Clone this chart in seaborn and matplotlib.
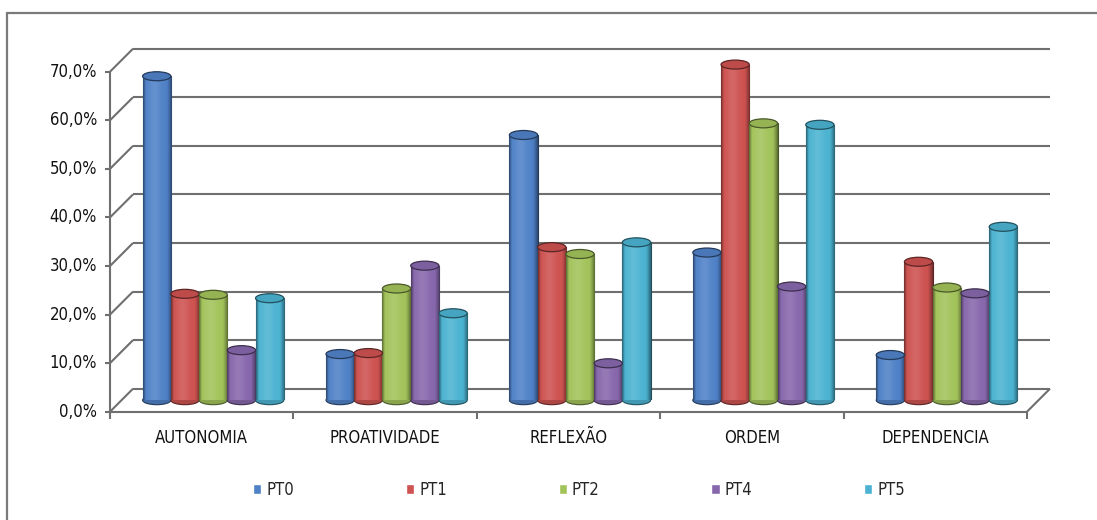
import numpy as np
import pandas as pd
import seaborn as sns
import matplotlib.pyplot as plt
from matplotlib.patches import Ellipse
from matplotlib.lines import Line2D
from matplotlib.colors import to_rgb

# ---- data -------------------------------------------------------------
categorias = ['AUTONOMIA', 'PROATIVIDADE', 'REFLEXÃO', 'ORDEM', 'DEPENDENCIA']
series = ['PT0', 'PT1', 'PT2', 'PT4', 'PT5']
pt0 = [66.7, 9.5, 54.6, 30.4, 9.3]
pt1 = [21.9, 9.7, 31.5, 69.1, 28.5]
pt2 = [21.7, 23.0, 30.1, 57.0, 23.2]
pt4 = [10.3, 27.7, 7.6, 23.4, 22.0]
pt5 = [21.0, 17.9, 32.5, 56.7, 35.7]
y_ticks = [0, 10, 20, 30, 40, 50, 60, 70]
cores = ['#4F81C7', '#CD5250', '#A2C35A', '#8767AC', '#4BB3D1']

df = pd.DataFrame({
    'categoria': categorias * len(series),
    'serie': np.repeat(series, len(categorias)),
    'valor': pt0 + pt1 + pt2 + pt4 + pt5,
})

sns.set_style('white')
plt.rcParams['font.family'] = ['DejaVu Sans']
plt.rcParams['font.stretch'] = 'condensed'
FS = 12

W, H = 1097, 520
fig = plt.figure(figsize=(W / 100, H / 100), dpi=100)
# axes = mid-depth plane of the 3D box (where the cylinders stand)
ax = fig.add_axes([121.5 / W, 119.8 / H, 917 / W, 340 / H])

sns.barplot(data=df, x='categoria', y='valor', hue='serie', palette=cores,
            width=0.77, gap=0, saturation=1, ax=ax, zorder=3)

YMAX = 70
px_x = 917 / 5
px_y = 340 / YMAX
half = 11.5                      # half of the box depth, pixels
fdx, fdy = half / px_x, half / px_y
cap_h = 9 / px_y                 # elliptical cap height in data units


def shade(rgb, k):
    return tuple(np.clip(np.array(rgb) * k, 0, 1))


def cylinder_strip(rgb, n=80):
    t = np.linspace(0, 1, n)
    base = np.array(rgb)[None, :]
    light = 0.12 * np.exp(-((t - 0.4) / 0.22) ** 2)
    dark = (0.45 * np.clip((0.1 - t) / 0.1, 0, 1)
            + 0.45 * np.clip((t - 0.82) / 0.18, 0, 1) ** 1.3)
    col = base * (1 - dark[:, None])
    col = col + (1 - col) * light[:, None]
    return col[None, :, :]


for cont in ax.containers:
    for bar in cont:
        rgb = to_rgb(bar.get_facecolor())
        x0, w, h = bar.get_x(), bar.get_width(), bar.get_height()
        cx = x0 + w / 2
        edge = shade(rgb, 0.45)
        bar.set_edgecolor(edge)
        bar.set_linewidth(0.8)
        # base of the cylinder
        ax.add_patch(Ellipse((cx, 0), w, cap_h, facecolor=shade(rgb, 0.85),
                             edgecolor=edge, lw=0.8, zorder=2.9, clip_on=False))
        # shaded body
        im = ax.imshow(cylinder_strip(rgb), extent=[x0, x0 + w, 0, h], aspect='auto',
                       interpolation='bilinear', zorder=3.1)
        im.set_clip_path(bar)
        # top cap
        ax.add_patch(Ellipse((cx, h), w, cap_h, facecolor=shade(rgb, 0.92),
                             edgecolor=edge, lw=0.9, zorder=3.3, clip_on=False))

ax.set_xlim(-0.5, 4.5)
ax.set_ylim(0, YMAX)
ax.axis('off')

# ---- 3D box: back wall, left wall, floor -----------------------------
gc = '#6f6f6f'
lw = 1.5
kw = dict(color=gc, lw=lw, clip_on=False, zorder=1, solid_capstyle='butt')
for y in y_ticks:
    ax.plot([-0.5 + fdx, 4.5 + fdx], [y + fdy, y + fdy], **kw)
    ax.plot([-0.5 - fdx, -0.5 + fdx], [y - fdy, y + fdy], **kw)
ax.plot([-0.5 - fdx, -0.5 - fdx], [-fdy, YMAX - fdy], **kw)
ax.plot([-0.5 - fdx, 4.5 - fdx], [-fdy, -fdy], **kw)
ax.plot([4.5 - fdx, 4.5 + fdx], [-fdy, fdy], **kw)
ax.plot([-0.5 - fdx] * len(y_ticks), [y - fdy for y in y_ticks], ls='none',
        marker=0, ms=3.8, mew=lw, color=gc, clip_on=False)
xt = np.arange(-0.5, len(categorias), 1.0)
ax.plot(xt - fdx, [-fdy] * len(xt), ls='none', marker=3, ms=5, mew=lw,
        color=gc, clip_on=False)

# ---- labels -----------------------------------------------------------
for y in y_ticks:
    ax.text(-0.5 - fdx - 13 / px_x, y - fdy, f'{y:.1f}%'.replace('.', ','),
            ha='right', va='center', fontsize=FS, color='#111111')
for i, c in enumerate(categorias):
    ax.text(i - fdx, -fdy - 26 / px_y, c, ha='center', va='center',
            fontsize=FS, color='#111111')

sns.move_legend(ax, 'center', bbox_to_anchor=(579 / W, 30 / H),
                bbox_transform=fig.transFigure, ncol=5, frameon=False, title=None,
                fontsize=FS, handlelength=0.5, handleheight=0.5,
                handletextpad=0.3, columnspacing=6.7)

# chart border
bc = '#7a7a7a'
fig.add_artist(Line2D([7 / W, 1], [1 - 13 / H, 1 - 13 / H], transform=fig.transFigure,
                      color=bc, lw=1.6))
fig.add_artist(Line2D([7 / W, 7 / W], [0, 1 - 13 / H], transform=fig.transFigure,
                      color=bc, lw=1.6))

fig.savefig('out.png', dpi=100)
